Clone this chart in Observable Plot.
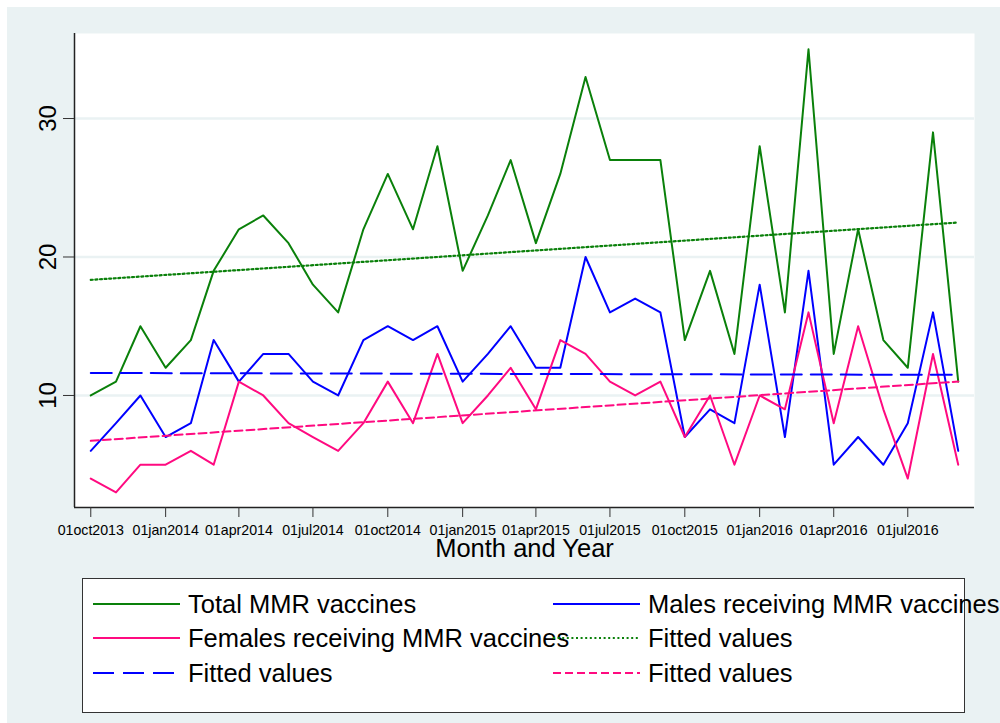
<!DOCTYPE html>
<html>
<head>
<meta charset="utf-8">
<script src="https://cdn.jsdelivr.net/npm/d3@7"></script>
<script src="https://cdn.jsdelivr.net/npm/@observablehq/plot@0.6"></script>
<style>
  html, body { margin: 0; padding: 0; background: #ffffff; }
  #wrap { position: relative; width: 1000px; height: 723px; overflow: hidden; font-family: "Liberation Sans", Arial, sans-serif; }
  #bg { position: absolute; left: 7px; top: 7px; right: 0; bottom: 0; background: #eaf2f3; }
  #chart { position: absolute; left: 0; top: 0; }
  #legend { position: absolute; left: 0; top: 560px; }
</style>
</head>
<body>
<div id="wrap">
  <div id="bg"></div>
  <div id="chart"></div>
  <div id="legend"></div>
</div>
<script>
// ---- data (monthly counts) ----
const months = [
  "2013-10-01","2013-11-01","2013-12-01","2014-01-01","2014-02-01","2014-03-01",
  "2014-04-01","2014-05-01","2014-06-01","2014-07-01","2014-08-01","2014-09-01",
  "2014-10-01","2014-11-01","2014-12-01","2015-01-01","2015-02-01","2015-03-01",
  "2015-04-01","2015-05-01","2015-06-01","2015-07-01","2015-08-01","2015-09-01",
  "2015-10-01","2015-11-01","2015-12-01","2016-01-01","2016-02-01","2016-03-01",
  "2016-04-01","2016-05-01","2016-06-01","2016-07-01","2016-08-01","2016-09-01"
];
const totalMMR = [10,11,15,12,14,19,22,23,21,18,16,22,26,22,28,19,23,27,21,26,33,27,27,27,14,19,13,28,16,35,13,22,14,12,29,11];
const malesMMR = [6,8,10,7,8,14,11,13,13,11,10,14,15,14,15,11,13,15,12,12,20,16,17,16,7,9,8,18,7,19,5,7,5,8,16,6];
const femalesMMR = [4,3,5,5,6,5,11,10,8,7,6,8,11,8,13,8,10,12,9,14,13,11,10,11,7,10,5,10,9,16,8,15,9,4,13,5];

const xTicks = ["2013-10-01","2014-01-01","2014-04-01","2014-07-01","2014-10-01","2015-01-01",
                "2015-04-01","2015-07-01","2015-10-01","2016-01-01","2016-04-01","2016-07-01"];
const yTicks = [10, 20, 30];
const xDomain = ["2013-09-11", "2016-09-21"];
const yDomain = [1.91, 36.14];

const legendLabels = [
  "Total MMR vaccines", "Males receiving MMR vaccines",
  "Females receiving MMR vaccines", "Fitted values",
  "Fitted values", "Fitted values"
];

// ---- styles ----
const GREEN = "#0a800a", BLUE = "#0000ff", PINK = "#ff0a80";
const GRID = "#eaf2f3";
const FONT = "Liberation Sans, Arial, sans-serif";

const toDate = s => new Date(s + "T00:00:00Z");
const mk = arr => months.map((m, i) => ({date: toDate(m), value: arr[i]}));
const totalData = mk(totalMMR), malesData = mk(malesMMR), femalesData = mk(femalesMMR);
const fmt = d3.utcFormat("%d%b%Y");

const chart = Plot.plot({
  width: 1000,
  height: 565,
  marginLeft: 74,
  marginRight: 26,
  marginTop: 33,
  marginBottom: 58,
  style: {background: "transparent", fontFamily: FONT, color: "#000"},
  x: {type: "utc", domain: xDomain.map(toDate)},
  y: {domain: yDomain},
  marks: [
    Plot.frame({fill: "white", stroke: null}),
    Plot.gridY(yTicks, {stroke: GRID, strokeOpacity: 1, strokeWidth: 2.5}),
    Plot.ruleX([toDate(xDomain[0])], {stroke: "#222", strokeWidth: 1.5}),
    Plot.ruleY([yDomain[0]], {stroke: "#222", strokeWidth: 1.5}),
    Plot.axisY(yTicks, {tickSize: 11, tickRotate: -90, fontSize: 24, tickPadding: 8, label: null, stroke: "#333"}),
    Plot.axisX(xTicks.map(toDate), {tickSize: 10, fontSize: 14.2, tickPadding: 7, label: null, stroke: "#333",
      tickFormat: d => fmt(d).toLowerCase()}),
    Plot.text(["Month and Year"], {frameAnchor: "bottom", dy: 49, fontSize: 25.5, fill: "#000"}),
    Plot.line(totalData, {x: "date", y: "value", stroke: GREEN, strokeWidth: 2}),
    Plot.line(malesData, {x: "date", y: "value", stroke: BLUE, strokeWidth: 2}),
    Plot.line(femalesData, {x: "date", y: "value", stroke: PINK, strokeWidth: 2}),
    Plot.linearRegressionY(totalData, {x: "date", y: "value", ci: 0, stroke: GREEN, strokeWidth: 2.2, strokeDasharray: "2,2.6"}),
    Plot.linearRegressionY(malesData, {x: "date", y: "value", ci: 0, stroke: BLUE, strokeWidth: 2, strokeDasharray: "21,9"}),
    Plot.linearRegressionY(femalesData, {x: "date", y: "value", ci: 0, stroke: PINK, strokeWidth: 2, strokeDasharray: "8,4"})
  ]
});
document.getElementById("chart").appendChild(chart);

// ---- legend (below the plot) ----
const legendStyles = [
  {stroke: GREEN, dash: null}, {stroke: BLUE, dash: null},
  {stroke: PINK, dash: null}, {stroke: GREEN, dash: "2,2.6"},
  {stroke: BLUE, dash: "21,9"}, {stroke: PINK, dash: "8,4"}
];
const lsvg = d3.select("#legend").append("svg")
  .attr("width", 1000).attr("height", 163)
  .style("overflow", "visible")
  .style("font-family", FONT);
lsvg.append("rect")
  .attr("x", 82.5).attr("y", 18.5).attr("width", 882).attr("height", 134)
  .attr("fill", "white").attr("stroke", "#333").attr("stroke-width", 1);
const colX = [93, 553];
const rowY = [44, 78, 113];
legendLabels.forEach((lab, i) => {
  const c = i % 2, r = Math.floor(i / 2);
  const st = legendStyles[i];
  const ln = lsvg.append("line")
    .attr("x1", colX[c]).attr("x2", colX[c] + 87)
    .attr("y1", rowY[r]).attr("y2", rowY[r])
    .attr("stroke", st.stroke).attr("stroke-width", 2);
  if (st.dash) ln.attr("stroke-dasharray", st.dash);
  lsvg.append("text")
    .attr("x", colX[c] + 95).attr("y", rowY[r])
    .attr("dy", "0.35em")
    .attr("font-size", 25.5)
    .attr("fill", "#000")
    .text(lab);
});
</script>
</body>
</html>
